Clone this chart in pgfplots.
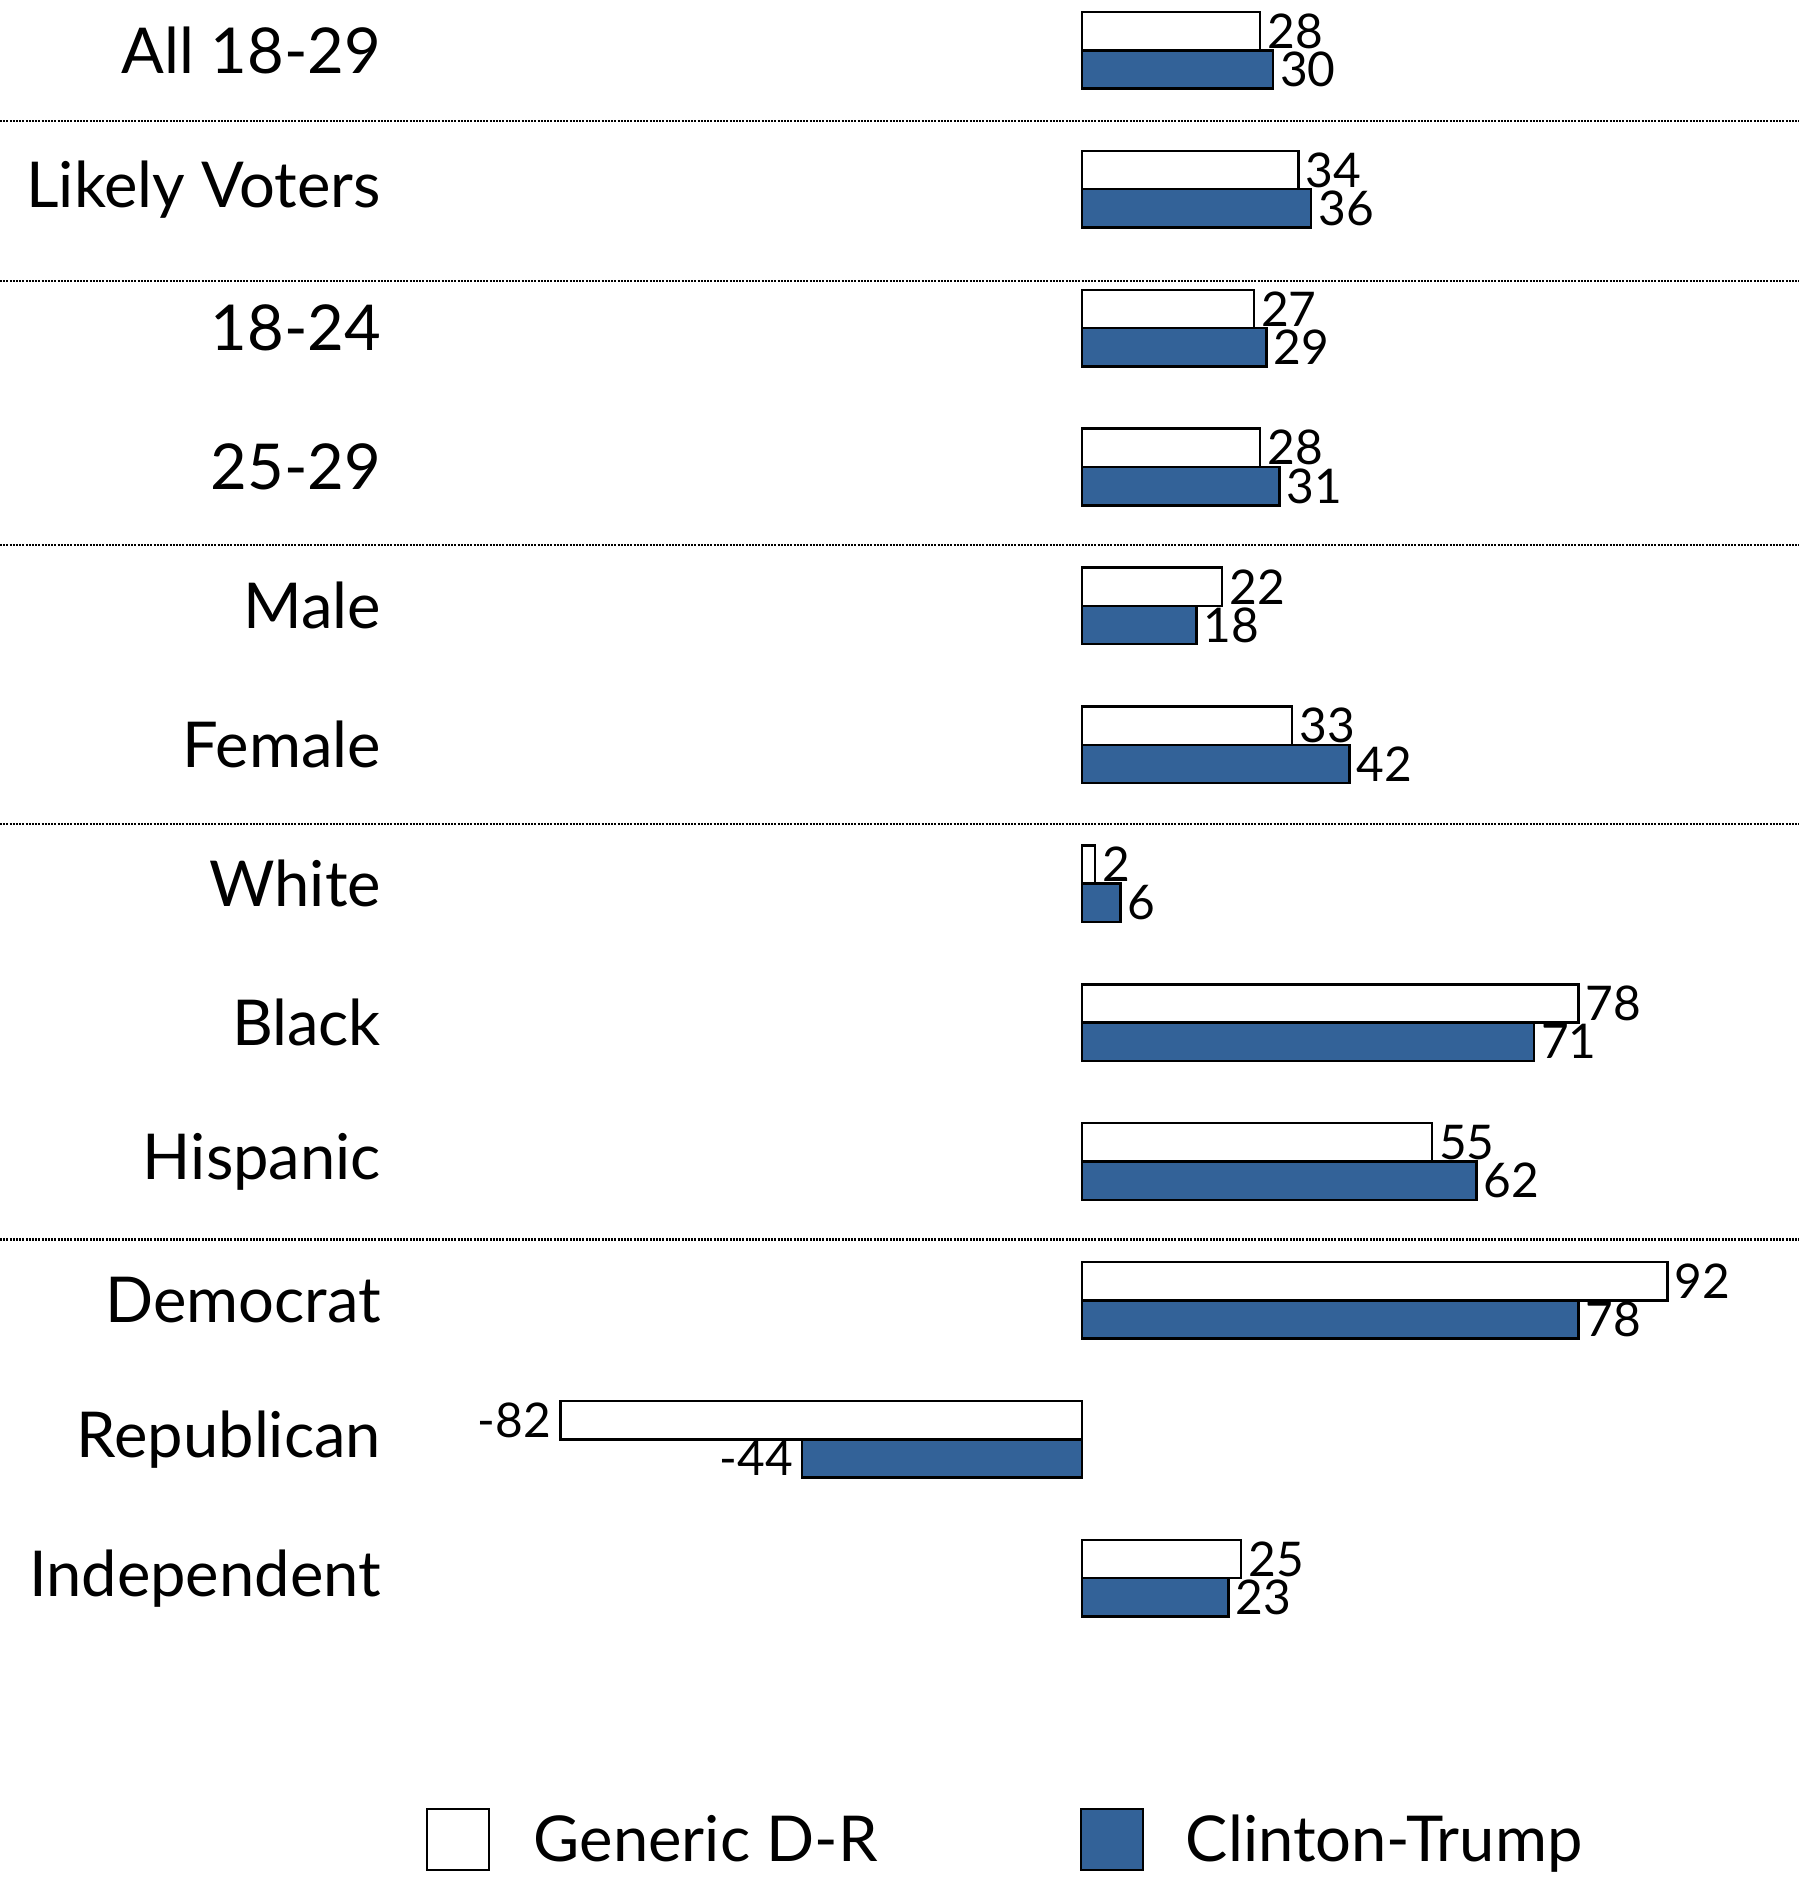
\documentclass[border=0pt]{standalone}
\usepackage{pgfplots}
\pgfplotsset{compat=1.18}
\usepackage{pgfplotstable}
\usepackage{fontspec}
\setmainfont{Lato}
\definecolor{ctblue}{RGB}{51,98,152}
\newcommand{\catfont}{\fontsize{18}{20}\selectfont}
\newcommand{\numfont}{\fontsize{13.6}{15}\selectfont}
\tikzset{numlab/.style={inner xsep=0.6mm, inner ysep=0pt, font=\numfont, text=black}}
\pgfplotsset{sepline/.style={black, line width=0.25mm, dash pattern=on 0.2mm off 0.12mm, forget plot}}

\pgfplotstableread{
y  v   lab
11 28  28
10 34  34
9  27  27
8  28  28
7  22  22
6  33  33
5  2   2
4  78  78
3  55  55
2  92  92
0  25  25
}\genpos
\pgfplotstableread{
y  v   lab
1  -82 -82
}\genneg
\pgfplotstableread{
y  v   lab
11 30  30
10 36  36
9  29  29
8  31  31
7  18  18
6  42  42
5  6   6
4  71  71
3  62  62
2  78  78
0  23  23
}\ctpos
\pgfplotstableread{
y  v   lab
1  -44 -44
}\ctneg

\begin{document}
\begin{tikzpicture}
\begin{axis}[
  name=ax,
  scale only axis,
  width=179.9mm, height=187.7mm,
  xmin=-170.1, xmax=112.7,
  ymin=-2.151, ymax=11.362,
  hide axis,
  clip=false,
  point meta=explicit symbolic,
]
% separators
\addplot[sepline] coordinates {(-170.1,10.49) (112.7,10.49)};
\addplot[sepline] coordinates {(-170.1,9.34) (112.7,9.34)};
\addplot[sepline] coordinates {(-170.1,7.44) (112.7,7.44)};
\addplot[sepline] coordinates {(-170.1,5.43) (112.7,5.43)};
\addplot[sepline] coordinates {(-170.1,2.44) (112.7,2.44)};

\addplot[xbar, bar width=3.83mm, bar shift=1.915mm, draw=black, line width=0.25mm, fill=white,
  nodes near coords, every node near coord/.append style={numlab, anchor=west, yshift=1.915mm}]
  table[x=v, y=y, meta=lab] {\genpos};
\addplot[xbar, bar width=3.83mm, bar shift=-1.915mm, draw=black, line width=0.25mm, fill=ctblue,
  nodes near coords, every node near coord/.append style={numlab, anchor=west, yshift=-1.915mm}]
  table[x=v, y=y, meta=lab] {\ctpos};
\addplot[xbar, bar width=3.83mm, bar shift=1.915mm, draw=black, line width=0.25mm, fill=white,
  nodes near coords, every node near coord/.append style={numlab, anchor=east, inner xsep=0.8mm, yshift=1.915mm}]
  table[x=v, y=y, meta=lab] {\genneg};
\addplot[xbar, bar width=3.83mm, bar shift=-1.915mm, draw=black, line width=0.25mm, fill=ctblue,
  nodes near coords, every node near coord/.append style={numlab, anchor=east, inner xsep=0.8mm, yshift=-1.915mm}]
  table[x=v, y=y, meta=lab] {\ctneg};

% category labels
\node[anchor=east, inner sep=0pt, font=\catfont] at (axis cs:-110.1,11) {All 18-29};
\node[anchor=east, inner sep=0pt, font=\catfont] at (axis cs:-110.1,10) {Likely Voters};
\node[anchor=east, inner sep=0pt, font=\catfont] at (axis cs:-110.1,9) {18-24};
\node[anchor=east, inner sep=0pt, font=\catfont] at (axis cs:-110.1,8) {25-29};
\node[anchor=east, inner sep=0pt, font=\catfont] at (axis cs:-110.1,7) {Male};
\node[anchor=east, inner sep=0pt, font=\catfont] at (axis cs:-110.1,6) {Female};
\node[anchor=east, inner sep=0pt, font=\catfont] at (axis cs:-110.1,5) {White};
\node[anchor=east, inner sep=0pt, font=\catfont] at (axis cs:-110.1,4) {Black};
\node[anchor=east, inner sep=0pt, font=\catfont] at (axis cs:-110.1,3) {Hispanic};
\node[anchor=east, inner sep=0pt, font=\catfont] at (axis cs:-110.1,2) {Democrat};
\node[anchor=east, inner sep=0pt, font=\catfont] at (axis cs:-110.1,1) {Republican};
\node[anchor=east, inner sep=0pt, font=\catfont] at (axis cs:-110.1,0) {Independent};

% legend
\draw[black, line width=0.25mm, fill=white] (axis cs:-103.0,-1.662) rectangle (axis cs:-93.2,-2.102);
\node[anchor=base west, inner sep=0pt, font=\catfont] at (axis cs:-86.3,-2.036) {Generic D-R};
\draw[black, line width=0.25mm, fill=ctblue] (axis cs:-0.16,-1.662) rectangle (axis cs:9.59,-2.102);
\node[anchor=base west, inner sep=0pt, font=\catfont] at (axis cs:16.2,-2.036) {Clinton-Trump};
\end{axis}
\pgfresetboundingbox
\path (ax.south west) rectangle (ax.north east);
\end{tikzpicture}
\end{document}
